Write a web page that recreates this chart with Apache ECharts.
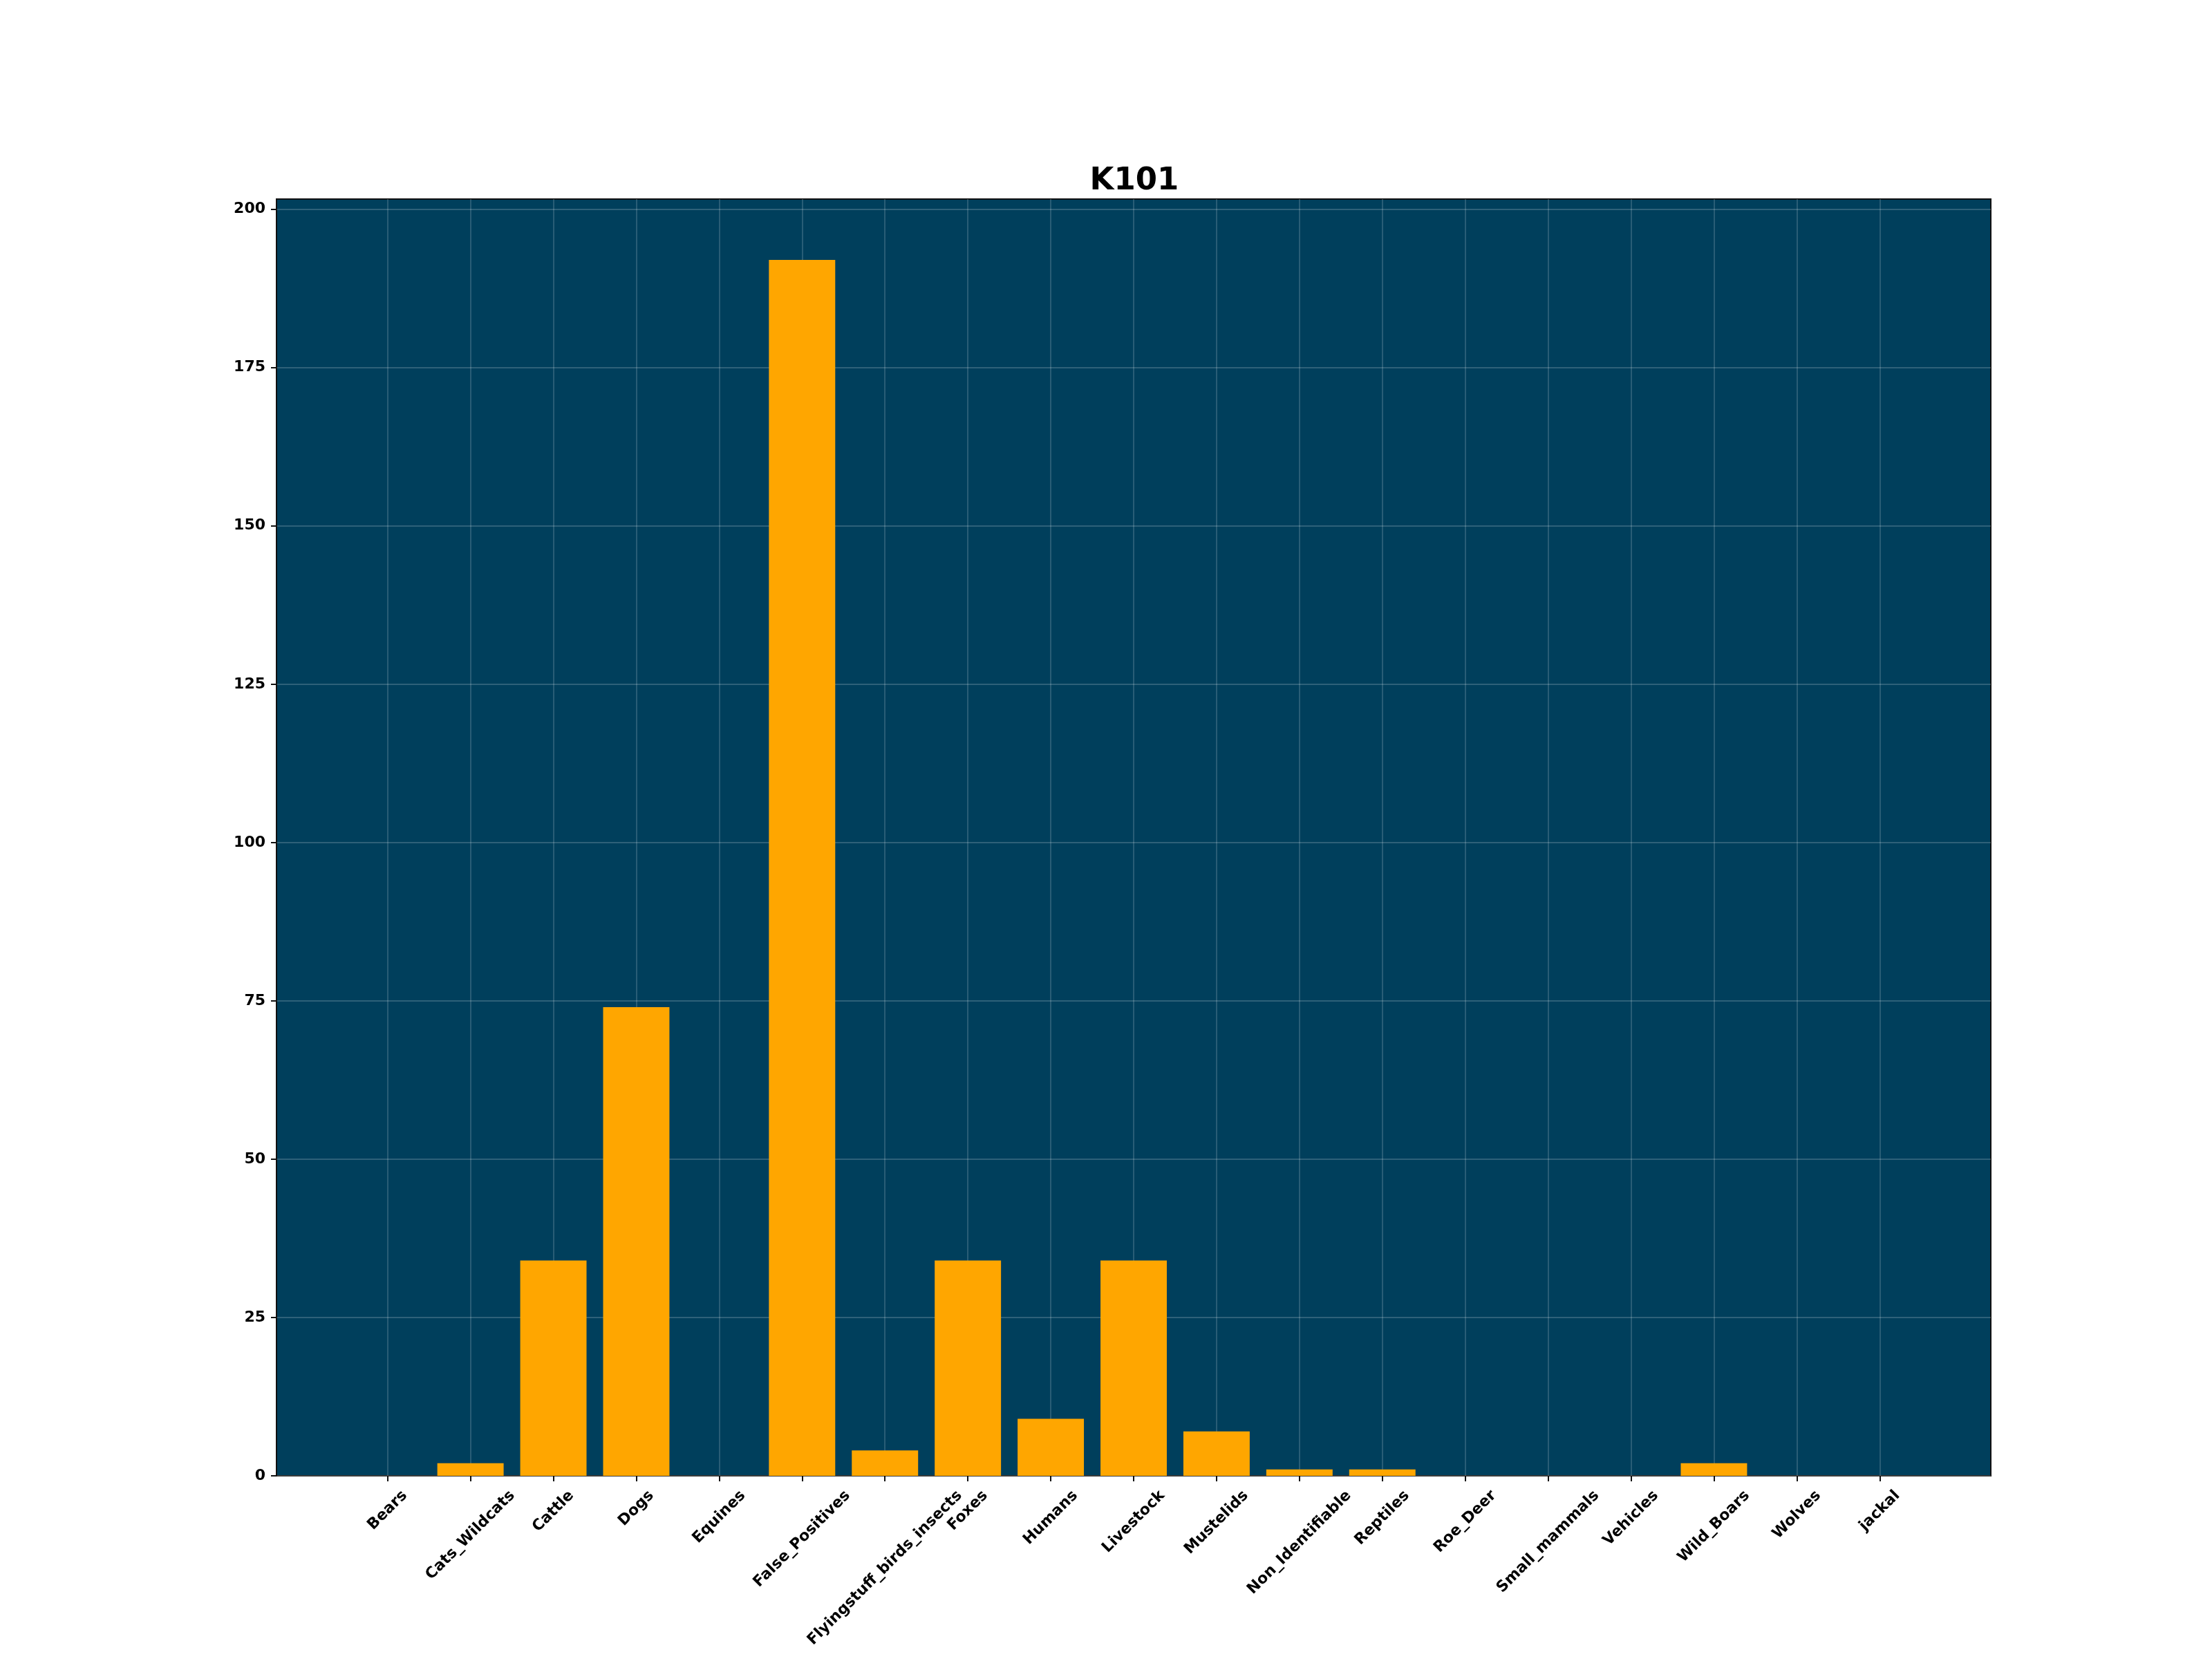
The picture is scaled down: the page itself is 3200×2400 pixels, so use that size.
<!DOCTYPE html>
<html>
<head>
<meta charset="utf-8">
<script src="https://cdn.jsdelivr.net/npm/echarts@6/dist/echarts.min.js"></script>
<style>html,body{margin:0;padding:0;background:#fff;}#chart{width:3200px;height:2400px;}</style>
</head>
<body>
<div id="chart"></div>
<script>
const titleText = 'K101';
const categories = ['Bears','Cats_Wildcats','Cattle','Dogs','Equines','False_Positives','Flyingstuff_birds_insects','Foxes','Humans','Livestock','Mustelids','Non_Identifiable','Reptiles','Roe_Deer','Small_mammals','Vehicles','Wild_Boars','Wolves','jackal'];
const counts = [0,2,34,74,0,192,4,34,9,34,7,1,1,0,0,0,2,0,0];
const yTicks = [0,25,50,75,100,125,150,175,200];
const yMax = 201.6;

const PL = 400, PR = 2880, PT = 288, PB = 2135;
const xMin = -1.34, xMax = categories.length - 1 + 1.34;
const unit = (PR - PL) / (xMax - xMin);
const innerLeft = PL + (0 - xMin) * unit;
const innerWidth = (categories.length - 1) * unit;

const FONT = '"DejaVu Sans", sans-serif';
const FS = 22;
const gridColor = 'rgba(255,255,255,0.18)';

const mctx = document.createElement('canvas').getContext('2d');
mctx.font = 'bold ' + FS + 'px "DejaVu Sans"';

const chart = echarts.init(document.getElementById('chart'), null, {renderer: 'canvas'});
chart.setOption({
  animation: false,
  backgroundColor: '#ffffff',
  title: {
    text: titleText, left: (PL + PR) / 2 - 4, textAlign: 'center', top: 235,
    textStyle: {fontFamily: FONT, fontWeight: 'bold', fontSize: 45, color: '#000'}
  },
  grid: [
    {left: PL, top: PT, width: PR - PL, height: PB - PT, show: true,
     backgroundColor: '#003f5c', borderColor: '#111', borderWidth: 2},
    {left: innerLeft, top: PT, width: innerWidth, height: PB - PT, show: false}
  ],
  xAxis: [
    {gridIndex: 0, type: 'value', min: 0, max: 1, show: false},
    {gridIndex: 1, type: 'value', min: 0, max: categories.length - 1, interval: 1,
     axisLine: {show: false},
     axisTick: {show: true, inside: false, length: 8, lineStyle: {color: '#111', width: 2}},
     axisLabel: {show: false},
     splitLine: {show: true, lineStyle: {color: gridColor, width: 1.8}}}
  ],
  yAxis: [
    {gridIndex: 0, type: 'value', min: 0, max: yMax, interval: 25,
     axisLine: {show: true, lineStyle: {color: '#111', width: 2}},
     axisTick: {show: true, inside: false, length: 8, customValues: yTicks, lineStyle: {color: '#111', width: 2}},
     axisLabel: {show: true, margin: 16, customValues: yTicks, color: '#000',
       fontFamily: FONT, fontWeight: 'bold', fontSize: FS},
     splitLine: {show: true, lineStyle: {color: gridColor, width: 1.8}}},
    {gridIndex: 1, type: 'value', min: 0, max: yMax, show: false, splitLine: {show: false}}
  ],
  series: [
    {type: 'bar', xAxisIndex: 1, yAxisIndex: 1,
     data: counts.map((v, i) => [i, v]),
     barWidth: 0.8 * unit,
     itemStyle: {color: '#ffa600'}},
    {type: 'custom', xAxisIndex: 1, yAxisIndex: 1, clip: false, silent: true,
     data: categories.map((c, i) => [i, 0]),
     renderItem: function (params, api) {
       const name = categories[params.dataIndex];
       const p = api.coord([api.value(0), 0]);
       const w = mctx.measureText(name).width;
       const h = FS * 1.17;
       const half = (w + h) / (2 * Math.SQRT2);
       return {
         type: 'text',
         x: p[0], y: p[1] + 16 + half,
         rotation: Math.PI / 4,
         style: {text: name, x: 0, y: 0, align: 'center', verticalAlign: 'middle',
           font: 'bold ' + FS + 'px "DejaVu Sans"', fill: '#000'}
       };
     }}
  ]
});
</script>
</body>
</html>
